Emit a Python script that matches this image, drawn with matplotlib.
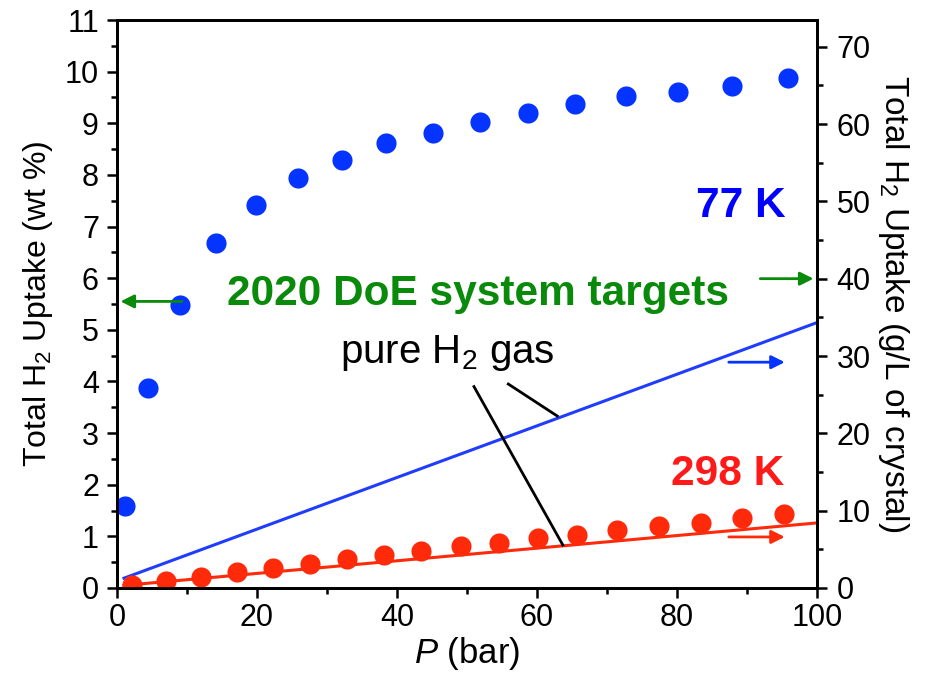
import numpy as np
import matplotlib.pyplot as plt

plt.rcParams['font.family'] = ['Liberation Sans', 'DejaVu Sans']
plt.rcParams['mathtext.fontset'] = 'custom'
plt.rcParams['mathtext.rm'] = 'Liberation Sans'
plt.rcParams['mathtext.it'] = 'Liberation Sans:italic'
plt.rcParams['mathtext.bf'] = 'Liberation Sans:bold'

# 77 K isotherm (wt %)
p77 = [1.1, 4.4, 9.0, 14.1, 19.9, 25.9, 32.1, 38.5, 45.1, 51.9, 58.7, 65.4, 72.7, 80.1, 87.9, 95.8]
w77 = [1.58, 3.87, 5.48, 6.68, 7.42, 7.94, 8.29, 8.62, 8.82, 9.03, 9.20, 9.38, 9.52, 9.61, 9.73, 9.88]

# 298 K isotherm (wt %)
p298 = [2.1, 7.0, 12.0, 17.1, 22.3, 27.6, 32.8, 38.1, 43.4, 49.1, 54.6, 60.1, 65.7, 71.4, 77.4, 83.4, 89.3, 95.3]
w298 = [0.06, 0.14, 0.22, 0.31, 0.39, 0.47, 0.56, 0.64, 0.72, 0.81, 0.87, 0.97, 1.03, 1.12, 1.20, 1.26, 1.36, 1.43]

# pure H2 gas lines (wt % scale)
p_gas = [1, 100]
gas77 = [0.19, 5.14]
gas298 = [0.05, 1.26]

# DoE targets
target_wt = 5.55
target_gL = 40
arrow77_gL = 29.2
arrow298_gL = 6.6

blue = '#0533ff'
red = '#ff2a0a'
green = '#0a8a0a'

fig = plt.figure(figsize=(9.48, 6.76), dpi=100)
ax = fig.add_axes([0.1234, 0.1302, 0.7384, 0.8402])
ax2 = ax.twinx()

ax.plot(p_gas, gas77, color='#1f3cff', lw=2.2, zorder=2)
ax.plot(p_gas, gas298, color=red, lw=2.2, zorder=2)
ax.plot(p77, w77, 'o', color=blue, ms=14.5, mec='none', zorder=3)
ax.plot(p298, w298, 'o', color=red, ms=14.5, mec='none', zorder=3)

ax.set_xlim(0, 100)
ax.set_ylim(0, 11)
ax2.set_ylim(0, 73.45)

ax.set_xticks(np.arange(0, 101, 20))
ax.set_xticks(np.arange(10, 100, 20), minor=True)
ax.set_yticks(np.arange(0, 12, 1))
ax.set_yticks(np.arange(0.5, 11, 1), minor=True)
ax2.set_yticks(np.arange(0, 71, 10))
ax2.set_yticks(np.arange(5, 71, 10), minor=True)

for a in (ax, ax2):
    for s in a.spines.values():
        s.set_linewidth(2)
    a.tick_params(which='major', direction='out', length=7, width=1.8, labelsize=22)
    a.tick_params(which='minor', direction='out', length=4.5, width=1.8)
ax.tick_params(axis='x', pad=4)
ax.tick_params(axis='y', pad=6)
ax2.tick_params(axis='y', pad=7)

ax.set_xlabel(r'$P$ (bar)', fontsize=25, labelpad=1)
ax.set_ylabel(r'Total H$_2$ Uptake (wt %)', fontsize=23, labelpad=7)
ax2.set_ylabel(r'Total H$_2$ Uptake (g/L of crystal)', fontsize=24, rotation=-90, labelpad=29)

# target arrows
arr = dict(arrowstyle='-|>', color=green, lw=2, mutation_scale=20, shrinkA=0, shrinkB=0)
ax.annotate('', xy=(0.5, target_wt), xytext=(9.3, target_wt), arrowprops=arr)
ax2.annotate('', xy=(99.5, target_gL), xytext=(91.9, target_gL), arrowprops=arr)
ax2.annotate('', xy=(95.4, arrow77_gL), xytext=(87.4, arrow77_gL),
             arrowprops=dict(arr, color=blue))
ax2.annotate('', xy=(95.4, arrow298_gL), xytext=(87.4, arrow298_gL),
             arrowprops=dict(arr, color=red))

ax.text(51.6, 5.48, '2020 DoE system targets', color=green, fontsize=30.5,
        fontweight='bold', ha='center', va='baseline')
ax.text(89.1, 7.4, '77 K', color='#0000ff', fontsize=30.5, fontweight='bold',
        ha='center', va='center')
ax.text(87.3, 2.2, '298 K', color='#ff1a1a', fontsize=30.5, fontweight='bold',
        ha='center', va='center')
ax.text(47.2, 4.36, r'pure H$_2$ gas', fontsize=29, ha='center', va='baseline')

# pointer lines from the label
ax.plot([51.0, 63.7], [3.90, 0.83], color='black', lw=2, zorder=4)
ax.plot([55.9, 62.9], [3.95, 3.33], color='black', lw=2, zorder=4)

fig.savefig('out.png', dpi=100)
